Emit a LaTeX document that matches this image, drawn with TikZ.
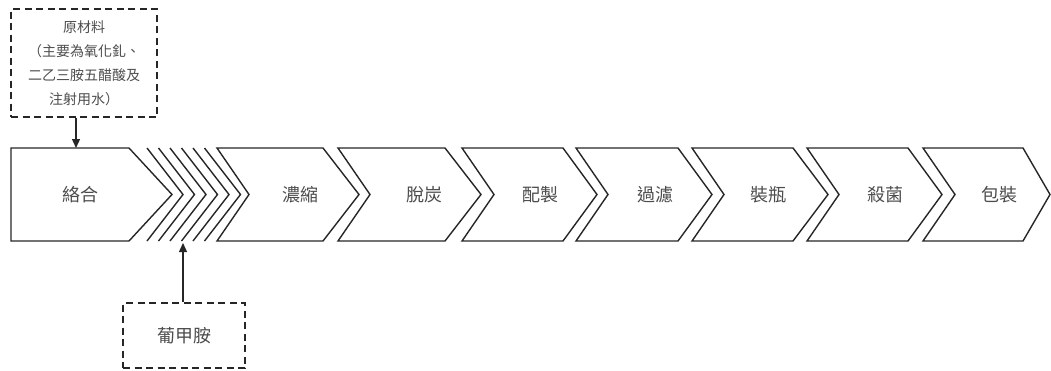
\documentclass[tikz,border=0pt]{standalone}
\usepackage{fontspec}
\setmainfont{Noto Sans CJK TC}
\usetikzlibrary{arrows.meta}
\begin{document}
\begin{tikzpicture}[x=1pt,y=-1pt,
  shp/.style={draw=black!85,line width=1.4pt,line join=miter},
  lbl/.style={text=black!70,font=\fontsize{18}{20}\selectfont,inner sep=0pt},
  dbox/.style={draw=black!85,line width=1.4pt,dash pattern=on 7pt off 4.5pt,
    text=black!70,align=center,inner sep=0pt},
  arr/.style={draw=black!85,line width=1.3pt,-{Triangle[length=9pt,width=8pt]}}]
\useasboundingbox (0,0) rectangle (1051,370);
% first block
\draw[shp] (11,148) -- (129,148) -- (172,194.5) -- (129,241) -- (11,241) -- cycle;
\node[lbl] (s0) at (80,195) {絡合};
% hatch chevrons
\foreach \i in {0,...,5}{
  \draw[shp] ({147+11.5*\i},148) -- ({183+11.5*\i},194.5) -- ({147+11.5*\i},241);
}
% chevron blocks
\foreach \L/\R/\T/\tx/\nm [count=\k] in {217/323/359/300/濃縮, 338/445/481/424/脫炭,
  462/563/597/540/配製, 576/678/712/655/過濾, 692/793/828/768/裝瓶,
  807/908/942/885/殺菌, 923/1023/1050/999/包裝}{
  \draw[shp] (\L,148) -- (\R,148) -- (\T,194.5) -- (\R,241) -- (\L,241) -- ({\L+32},194.5) -- cycle;
  \node[lbl] (s\k) at (\tx,195) {\nm};
}
% input boxes
\node[dbox,minimum width=146pt,minimum height=108pt,font=\fontsize{14}{24}\selectfont]
  (raw) at (84,63) {原材料\\（主要為氧化釓、\\二乙三胺五醋酸及\\注射用水）};
\node[dbox,minimum width=122pt,minimum height=65pt,font=\fontsize{18}{20}\selectfont]
  (glu) at (184,335.5) {葡甲胺};
\coordinate (t1) at (76,148);
\coordinate (t2) at (183,243);
\draw[arr] (raw.south -| t1) -- (t1);
\draw[arr] (glu.north -| t2) -- (t2);
\end{tikzpicture}
\end{document}
